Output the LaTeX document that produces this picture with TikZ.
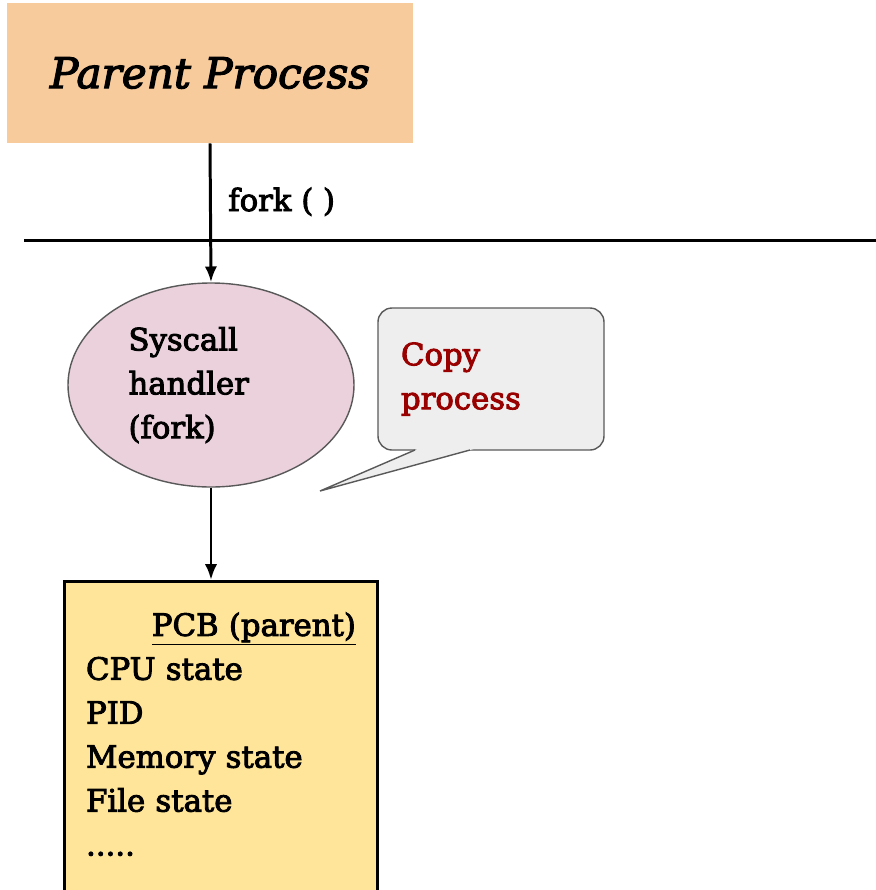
\documentclass[tikz,border=0pt]{standalone}
\usepackage{fontspec}
\setmainfont{DejaVu Serif}[FakeBold=3]
\usepackage{tikz}
\usetikzlibrary{arrows.meta, positioning, shapes.geometric}
\definecolor{parentfill}{HTML}{F8CB9C}
\definecolor{handlerfill}{HTML}{EAD1DC}
\definecolor{bubblefill}{HTML}{EEEEEE}
\definecolor{pcbfill}{HTML}{FFE599}
\definecolor{edgegray}{HTML}{595959}
\definecolor{darkred}{HTML}{990000}
\tikzset{
  body/.style={font=\fontsize{17.5}{25}\selectfont},
  flow/.style={line width=1.7pt, -{Latex[length=9pt, width=7pt]}},
}
\begin{document}
\begin{tikzpicture}[x=0.02cm, y=-0.02cm]
    \useasboundingbox (0,0) rectangle (876,890);
    \node[fill=parentfill, minimum width=406*0.02cm, minimum height=140*0.02cm, font=\fontsize{24}{28}\selectfont\itshape] (parent) at (210,73) {Parent Process};
    \node[ellipse, draw=edgegray, fill=handlerfill, line width=0.8pt, minimum width=286*0.02cm, minimum height=204*0.02cm, inner sep=0pt, text width=3.3cm, align=left, body] (handler) at (211,385) {Syscall\\handler\\(fork)};
    \node[draw=edgegray, fill=bubblefill, rounded corners=14*0.02cm, line width=0.8pt, minimum width=226*0.02cm, minimum height=142*0.02cm, text width=3.6cm, align=left, text=darkred, body] (copy) at (491,379) {Copy\\process};
    \node[draw, fill=pcbfill, line width=1.7pt, anchor=north, minimum width=313*0.02cm, inner ysep=0.62cm, text width=5.4cm, align=left, body] (pcb) at (221,580) {\hfill\underline{PCB (parent)}\\CPU state\\PID\\Memory state\\File state\\.....\\[1cm]\mbox{}};
    \coordinate (kernelL) at (24,240);
    \coordinate (kernelR) at (876,240);
    \coordinate (tip) at (320,491);
    % pointer of the bubble
    \fill[bubblefill] (422,447) -- (tip) -- (481,447) -- cycle;
    \draw[edgegray, line width=0.8pt] (415,450) -- (tip) -- (470,450);
    \draw[line width=1.7pt] (kernelL) -- (kernelR);
    \draw[flow] (parent.south) -- node[right=6pt, pos=0.42, body] (forklabel) {fork ( )} (handler.north);
    \draw[flow] (handler.south) -- (handler.south |- pcb.north);
\end{tikzpicture}
\end{document}
